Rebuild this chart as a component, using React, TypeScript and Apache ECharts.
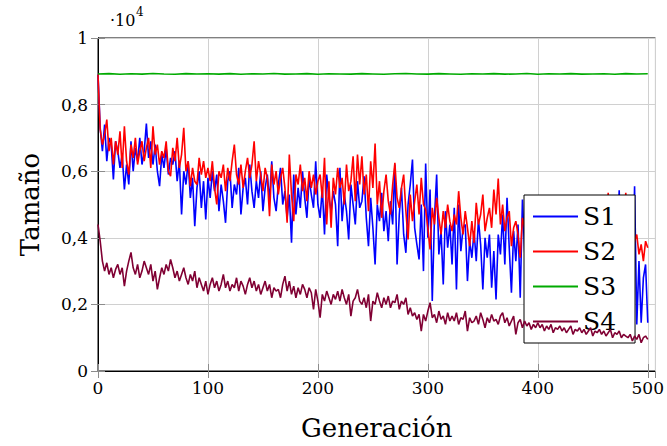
import React, { useEffect, useRef } from "react";
import * as echarts from "echarts";

const STEP = 2;
const S3_STEP = 10;

const S1: number[] = [
  8900, 7300, 6600, 7400, 6300, 7000, 6800, 5750, 6900, 6600, 6100,
  6500, 5450, 6200, 5600, 6900, 6000, 6700, 6300, 7000, 6200,
  6600, 7430, 6400, 6900, 6200, 6800, 6000, 5550, 6500, 6100,
  6700, 5900, 6400, 6200, 6600, 5700, 6300, 4700, 6000, 5600,
  6300, 5200, 5800, 4350, 5500, 6000, 4900, 5700, 4550, 5800,
  5200, 6000, 5400, 5900, 4800, 5600, 5100, 4450, 5700, 6000,
  4900, 5600, 5300, 6100, 4700, 5500, 5800, 5000, 6200, 5400,
  4900, 5700, 5200, 6000, 4800, 5500, 5900, 5100, 6300, 5200,
  4800, 5600, 6100, 5000, 5400, 4600, 5300, 3850, 5900, 4700,
  5500, 4900, 6000, 5200, 4600, 5800, 5300, 4900, 6300, 5000,
  4600, 5500, 4100, 5900, 5200, 4800, 5400, 5000, 3750, 6100,
  4500, 5300, 4800, 3950, 5600, 5000, 4400, 5700, 4900, 5100,
  5850, 4600, 3750, 5200, 4300, 3200, 5000, 4500, 5350, 4200,
  4800, 3900, 5100, 4400, 6200, 3200, 4700, 5500, 4100, 3550,
  5000, 5600, 6350, 4300, 3800, 3350, 5000, 3000, 6230, 4000,
  5450, 2100, 4600, 5900, 3500, 4200, 2600, 4800, 3700, 4400,
  3200, 4900, 2450, 5000, 3600, 4300, 4400, 2700, 3900, 3400,
  4200, 3300, 4550, 3800, 2450, 4000, 3400, 4100, 2500, 3600,
  2150, 4100, 3500, 4700, 3200, 5200, 3700, 2350, 4200, 3300,
  4400, 2200, 5150, 3600, 2900, 4200, 3100, 3800, 2600, 4000,
  3200, 4500, 2800, 3700, 3300, 4800, 2500, 3900, 3400, 3000,
  4300, 2700, 3600, 4600, 3100, 2400, 3800, 3500, 4200, 2900,
  3300, 4700, 2600, 3600, 3900, 2800, 4400, 3200, 2500, 3700,
  4100, 3000, 3500, 2300, 4500, 3300, 5430, 2900, 3800, 3100,
  3900, 4550, 2400, 5550, 1400, 3300, 1450, 2800, 3200, 1450,
];

const S2: number[] = [
  8900, 7250, 6800, 7100, 7550, 6600, 7000, 6200, 6900, 6500, 7200,
  6100, 7350, 6300, 5900, 6800, 6400, 7000, 6200, 6600, 6900,
  6300, 6700, 7000, 6100, 7350, 6500, 6800, 6200, 6600, 6400,
  6900, 6000, 5850, 6700, 6300, 7000, 6100, 6500, 7300, 6000,
  6300, 5550, 6100, 5700, 5600, 6400, 5900, 6300, 5800, 6100,
  5700, 6300, 5500, 5000, 6000, 5800, 6200, 5400, 6100, 5700,
  6300, 6800, 5900, 5600, 6200, 5500, 6000, 6400, 5800, 6200,
  6900, 5700, 6300, 5900, 5400, 6100, 5800, 4650, 6200, 5600,
  6000, 5300, 5800, 6100, 5500, 4450, 6500, 5300, 4500, 5900,
  5600, 6200, 5400, 5800, 5100, 6000, 5500, 5900, 5300, 5700,
  5900, 5200, 6400, 4400, 5700, 4300, 5800, 5300, 6100, 5500,
  5800, 5000, 6200, 5400, 5700, 6450, 5100, 6500, 5600, 6450,
  5300, 5900, 4800, 6300, 5500, 6830, 5000, 5700, 4600, 5400,
  5900, 5100, 4700, 5600, 6250, 5200, 4900, 5500, 5900, 4800,
  3950, 5300, 4500, 5100, 5600, 4700, 5800, 5000, 4850, 4300,
  3650, 4900, 4400, 5200, 4600, 4100, 4800, 4300, 5000, 4500,
  4200, 4700, 4400, 5400, 4600, 4100, 4800, 4300, 3750, 4500,
  3850, 5050, 4400, 4700, 5300, 4200, 4600, 4900, 4300, 5450,
  4700, 5780, 4400, 5000, 4200, 4600, 4800, 3750, 4300, 4500,
  4100, 3400, 4600, 4300, 3900, 4700, 4000, 4400, 3700, 4200,
  4500, 3900, 4300, 3600, 4700, 4100, 3800, 4400, 4000, 4600,
  3700, 4200, 4800, 3900, 4300, 3500, 4100, 4500, 3800, 4200,
  4600, 3900, 4000, 4400, 3600, 4700, 4100, 3800, 4300, 4500,
  3900, 5350, 4200, 3700, 4600, 4000, 4300, 3800, 4400, 5350,
  4100, 3600, 3300, 3900, 4100, 3500, 3800, 3300, 3900, 3700,
];

const S3: number[] = [
  8920, 8930, 8910, 8925, 8915, 8935, 8920, 8910, 8930, 8920,
  8925, 8915, 8930, 8910, 8925, 8920, 8935, 8915, 8920, 8930,
  8910, 8925, 8920, 8915, 8930, 8920, 8910, 8925, 8935, 8920,
  8915, 8930, 8920, 8910, 8925, 8920, 8930, 8915, 8920, 8935,
  8910, 8925, 8920, 8930, 8915, 8920, 8925, 8910, 8930, 8920,
  8925,
];

const S4: number[] = [
  4400, 3900, 3300, 3000, 3250, 2900, 3100, 2800, 3050, 3200, 2900,
  3100, 2550, 3000, 3300, 3560, 3100, 2900, 3200, 2800, 3000,
  3300, 3100, 2900, 3200, 2700, 3000, 2450, 2800, 3100, 2900,
  3200, 3000, 3350, 3100, 2800, 3000, 2700, 2900, 3100, 2800,
  2600, 2900, 2700, 3000, 2500, 2800, 2600, 2400, 2700, 2300,
  2600, 2800, 2500, 2700, 2400, 2600, 2900, 2500, 2700, 2400,
  2600, 2500, 2800, 2400, 2700, 2550, 2300, 2600, 2800, 2500,
  2700, 2400, 2600, 2300, 2500, 2700, 2400, 2600, 2200, 2500,
  2400, 2450, 2200, 2600, 2850, 2400, 2700, 2300, 2550, 2200,
  2500, 2300, 2600, 2450, 2200, 2500, 2350, 1850, 2450, 2100,
  1600, 2300, 2100, 2400, 2200, 2000, 2300, 2150, 2400, 2100,
  2450, 2200, 2000, 2300, 1650, 2100, 2200, 2450, 2100, 2000,
  2200, 1900, 2300, 1500, 2100, 2000, 2350, 2100, 1900, 2200,
  2000, 2250, 1900, 2100, 2050, 2300, 1850, 2100, 2000, 2200,
  1700, 1900, 1650, 1750, 1550, 1700, 1200, 1700, 1500, 1800,
  2050, 1600, 1700, 1450, 1800, 1550, 1650, 1400, 1750, 1500,
  1650, 1500, 1750, 1400, 1600, 1550, 1800, 1200, 1600, 1450,
  1500, 1650, 1400, 1750, 1550, 1300, 1600, 1450, 1700, 1500,
  1550, 1400, 1650, 1750, 1450, 1600, 1350, 1500, 1650, 1100,
  1450, 1550, 1300, 1500, 1350, 1450, 1250, 1400, 1300, 1450,
  1300, 1400, 1200, 1350, 1250, 1400, 1150, 1300, 1250, 1350,
  1200, 1300, 1150, 1250, 1350, 1100, 1250, 1200, 1300, 1150,
  1250, 1100, 1200, 1300, 1050, 1200, 1150, 1250, 1100, 1200,
  1050, 1150, 1250, 1000, 1150, 1100, 1200, 1000, 1100, 1050,
  1000, 1100, 900, 1050, 950, 1100, 850, 1000, 1050, 950,
];

const SERIES_NAMES = ["S1", "S2", "S3", "S4"];
const COLORS = ["#0000ff", "#ff0000", "#00aa00", "#800033"];
const X_TITLE = "Generación";
const Y_TITLE = "Tamaño";

const FONT = "DejaVu Serif, serif";

export default function App() {
  const ref = useRef<HTMLDivElement>(null);
  useEffect(() => {
    if (!ref.current) return;
    const chart = echarts.init(ref.current, null, { renderer: "svg" });
    const toPairs = (arr: number[], step: number) => arr.map((v, i) => [i * step, v]);
    const datasets = [toPairs(S1, STEP), toPairs(S2, STEP), toPairs(S3, S3_STEP), toPairs(S4, STEP)];
    const tickStyle = { show: true, inside: true, length: 7, lineStyle: { color: "#8c8c8c", width: 1 } };
    chart.setOption({
      animation: false,
      backgroundColor: "#ffffff",
      textStyle: { fontFamily: FONT, color: "#000" },
      grid: { left: 98, top: 38, right: 10, bottom: 74, show: true, borderColor: "#000", borderWidth: 1, backgroundColor: "transparent" },
      xAxis: [
        {
          type: "value", min: 0, max: 507, interval: 100, position: "bottom",
          name: X_TITLE, nameLocation: "middle", nameGap: 44,
          nameTextStyle: { fontFamily: FONT, fontSize: 26, color: "#000" },
          axisLine: { show: true, lineStyle: { color: "#000", width: 1 } },
          axisTick: tickStyle,
          axisLabel: { fontFamily: FONT, fontSize: 17, color: "#000", margin: 8, showMaxLabel: false,
            formatter: (v: number) => (v % 100 === 0 ? String(v) : "") },
          splitLine: { show: true, lineStyle: { color: "#d0d0d0", width: 1 } },
        },
        {
          type: "value", min: 0, max: 507, interval: 100, position: "top",
          axisLine: { show: true, lineStyle: { color: "#000", width: 1 } },
          axisTick: tickStyle, axisLabel: { show: false }, splitLine: { show: false },
        },
      ],
      yAxis: [
        {
          type: "value", min: 0, max: 10000, interval: 2000, position: "left",
          name: Y_TITLE, nameLocation: "middle", nameGap: 55, nameRotate: 90,
          nameTextStyle: { fontFamily: FONT, fontSize: 26, color: "#000" },
          axisLine: { show: true, lineStyle: { color: "#000", width: 1 } },
          axisTick: tickStyle,
          axisLabel: { fontFamily: FONT, fontSize: 17, color: "#000", margin: 10,
            formatter: (v: number) => (v === 0 ? "0" : v === 10000 ? "1" : String(v / 10000).replace(".", ",")) },
          splitLine: { show: true, lineStyle: { color: "#d0d0d0", width: 1 } },
        },
        {
          type: "value", min: 0, max: 10000, interval: 2000, position: "right",
          axisLine: { show: true, lineStyle: { color: "#000", width: 1 } },
          axisTick: tickStyle, axisLabel: { show: false }, splitLine: { show: false },
        },
      ],
      legend: {
        orient: "vertical", left: 524, top: 195,
        data: SERIES_NAMES,
        itemWidth: 45, itemHeight: 14, itemGap: 10,
        padding: [9, 19, 9, 9],
        backgroundColor: "#fff", borderColor: "#000", borderWidth: 1, borderRadius: 0,
        textStyle: { fontFamily: FONT, fontSize: 25, color: "#000" },
        icon: "path://M0,6 L45,6 L45,8 L0,8 Z",
      },
      graphic: [
        { type: "text", left: 110, top: 12, style: { text: "·10", fontFamily: FONT, fontSize: 16, fill: "#000" } },
        { type: "text", left: 136, top: 6, style: { text: "4", fontFamily: FONT, fontSize: 12, fill: "#000" } },
      ],
      series: SERIES_NAMES.map((name, i) => ({
        name, type: "line", data: datasets[i], showSymbol: false, symbol: "none",
        color: COLORS[i], lineStyle: { color: COLORS[i], width: 1.6 },
        itemStyle: { color: COLORS[i] },
        z: 2 + (i === 2 ? 0 : i),
      })),
    });
    return () => chart.dispose();
  }, []);
  return <div ref={ref} style={{ position: "absolute", left: 0, top: 0, width: 667, height: 446 }} />;
}
